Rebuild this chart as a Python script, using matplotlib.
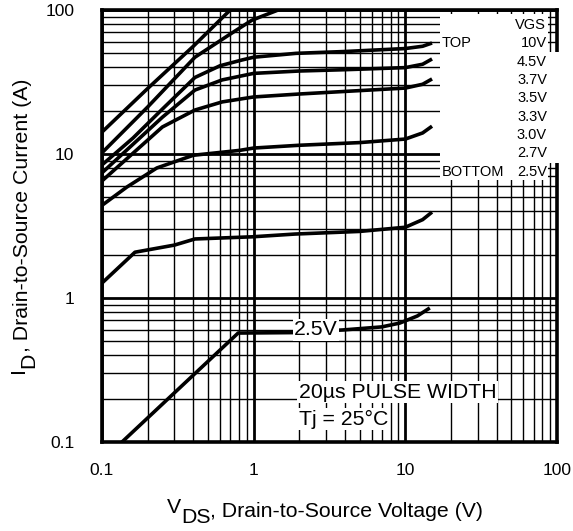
"""Typical output characteristics, ID vs VDS at Tj = 25 C."""

import matplotlib
matplotlib.use("Agg")
import matplotlib.pyplot as plt
from matplotlib.patches import Rectangle
from matplotlib.ticker import LogLocator, NullFormatter, FixedLocator, FixedFormatter

plt.rcParams["font.family"] = ["Liberation Sans", "DejaVu Sans"]

# one curve per gate voltage
vgs_labels = ["10V", "4.5V", "3.7V", "3.5V", "3.3V", "3.0V", "2.7V", "2.5V"]

vds_10v = [0.1, 0.2, 0.4, 0.7, 1.0]
id_10v = [14.2, 28.5, 56, 100, 142]

vds_4v5 = [0.1, 0.2, 0.41, 0.7, 0.975, 1.45, 2.0]
id_4v5 = [10.2, 21.2, 47, 68, 85, 100, 112]

vds_3v7 = [0.1, 0.16, 0.25, 0.41, 0.6, 0.84, 1.0, 1.9, 4.0, 10.0, 13.0, 15.0]
id_3v7 = [8.4, 12.9, 20.5, 34, 41, 45, 47, 50, 51.5, 54, 56, 59]

vds_3v5 = [0.1, 0.25, 0.41, 0.62, 1.0, 2.0, 4.0, 10.0, 13.0, 15.0]
id_3v5 = [7.4, 18, 27.8, 32.7, 36.3, 37.7, 38.5, 39.8, 42, 45.7]

vds_3v3 = [0.1, 0.25, 0.41, 0.62, 1.0, 2.0, 4.0, 10.0, 13.0, 15.0]
id_3v3 = [6.5, 15.4, 20.2, 23, 24.9, 26.1, 27.2, 28.7, 30.5, 33.2]

vds_3v0 = [0.1, 0.146, 0.23, 0.40, 0.81, 1.0, 2.0, 5.0, 10.0, 13.0, 15.0]
id_3v0 = [4.4, 5.9, 8.0, 9.8, 10.6, 11.0, 11.5, 12.0, 12.7, 14.0, 15.6]

vds_2v7 = [0.1, 0.165, 0.30, 0.41, 0.975, 1.87, 5.0, 10.0, 13.0, 15.0]
id_2v7 = [1.27, 2.08, 2.33, 2.57, 2.66, 2.78, 2.9, 3.1, 3.5, 3.95]

vds_2v5 = [0.13, 0.79, 1.82, 3.88, 7.0, 9.2, 12.0, 14.5]
id_2v5 = [0.096, 0.571, 0.575, 0.6, 0.63, 0.67, 0.75, 0.853]

curves = [
    (vds_10v, id_10v), (vds_4v5, id_4v5), (vds_3v7, id_3v7), (vds_3v5, id_3v5),
    (vds_3v3, id_3v3), (vds_3v0, id_3v0), (vds_2v7, id_2v7), (vds_2v5, id_2v5),
]

major_ticks = [0.1, 1, 10, 100]
major_labels = ["0.1", "1", "10", "100"]

W, H = 573, 531


def fx(px):
    return px / W


def fy(py):
    return 1 - py / H


def run_label(fig, cx, cy, pieces, size, vertical=False):
    """Write text pieces one after another, each with its own baseline shift (px)."""
    renderer = fig.canvas.get_renderer()
    rot = 90 if vertical else 0
    texts, lengths = [], []
    for s, _ in pieces:
        t = fig.text(0, 0, s, fontsize=size, rotation=rot, rotation_mode="anchor",
                     ha="left", va="baseline")
        bb = t.get_window_extent(renderer)
        texts.append(t)
        lengths.append(bb.height if vertical else bb.width)
    total = sum(lengths)
    pos = (H - cy) - total / 2 if vertical else cx - total / 2
    for t, (s, shift), ln in zip(texts, pieces, lengths):
        if vertical:
            t.set_position((fx(cx - shift), pos / H))
        else:
            t.set_position((fx(pos), fy(cy - shift)))
        pos += ln


fig = plt.figure(figsize=(W / 100, H / 100), dpi=100)
ax = fig.add_axes([fx(102), fy(442), fx(557) - fx(102), fy(10) - fy(442)])
ax.set_xscale("log")
ax.set_yscale("log")
ax.set_xlim(0.1, 100)
ax.set_ylim(0.1, 100)

for xs, ys in curves:
    ax.plot(xs, ys, color="black", lw=2.6, solid_capstyle="butt", zorder=3)

for axis in (ax.xaxis, ax.yaxis):
    axis.set_major_locator(FixedLocator(major_ticks))
    axis.set_major_formatter(FixedFormatter(major_labels))
    axis.set_minor_locator(LogLocator(base=10, subs=range(2, 10)))
    axis.set_minor_formatter(NullFormatter())

ax.set_axisbelow(True)
ax.grid(which="major", color="black", lw=2.0)
ax.grid(which="minor", color="black", lw=1.0)
ax.tick_params(which="both", length=0)
ax.tick_params(axis="x", labelsize=12.5, pad=15)
ax.tick_params(axis="y", labelsize=12.5, pad=20)
for sp in ax.spines.values():
    sp.set_linewidth(2.6)

# axis titles with the large, dropped subscripts of the original sheet
run_label(fig, 325, 517, [("V", 4), ("DS", -6), (", Drain-to-Source Voltage (V)", 0)], 15.3)
run_label(fig, 28, 226, [("I", 4), ("D", -6), (", Drain-to-Source Current (A)", 0)], 15.3,
          vertical=True)

# legend block at upper right
fig.add_artist(Rectangle((fx(440), fy(180)), fx(548) - fx(440), fy(14) - fy(180),
                         transform=fig.transFigure, fc="white", ec="none", zorder=5))
fig.add_artist(Rectangle((fx(440), fy(163)), fx(563) - fx(440), fy(52) - fy(163),
                         transform=fig.transFigure, fc="white", ec="none", zorder=5))

row_y = [43, 62, 80, 98, 117, 135, 153, 172]
fig.text(fx(546), fy(25), "VGS", ha="right", va="center", fontsize=10.5, zorder=6)
for lab, yy in zip(vgs_labels, row_y):
    fig.text(fx(547), fy(yy), lab, ha="right", va="center", fontsize=10.5, zorder=6)
fig.text(fx(442), fy(row_y[0]), "TOP", ha="left", va="center", fontsize=10.5, zorder=6)
fig.text(fx(442), fy(row_y[-1]), "BOTTOM", ha="left", va="center", fontsize=10.5, zorder=6)

box = dict(boxstyle="square,pad=0.06", fc="white", ec="none")
ax.text(1.85, 0.6, "2.5V", ha="left", va="center", fontsize=15.3, bbox=box, zorder=4)
ax.text(1.98, 0.222, "20µs PULSE WIDTH", ha="left", va="center", fontsize=15.3, bbox=box, zorder=4)
ax.text(1.98, 0.144, "Tj = 25°C", ha="left", va="center", fontsize=15.3, bbox=box, zorder=4)

fig.savefig("out.png", dpi=100)
